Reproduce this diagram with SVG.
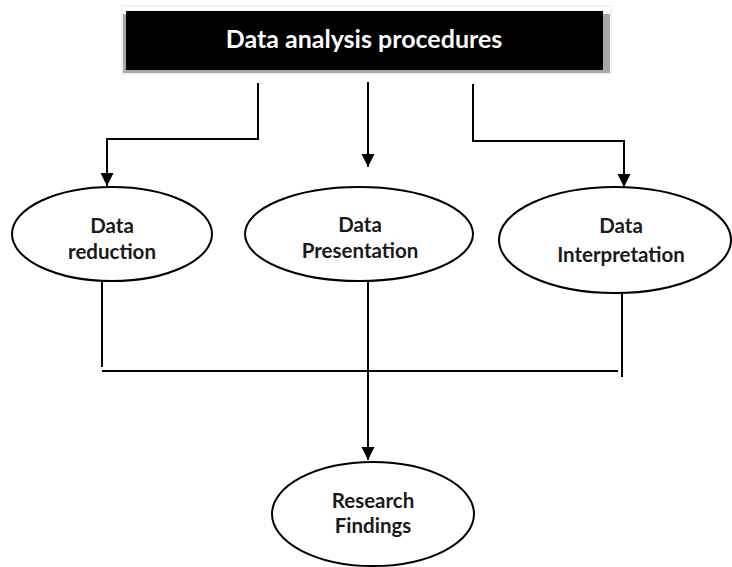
<svg xmlns="http://www.w3.org/2000/svg" width="732" height="567" viewBox="0 0 732 567">
  <style>
    .node ellipse { fill: #ffffff; stroke: #000000; stroke-width: 2; }
    .label { font-family: Lato, "Liberation Sans", sans-serif; font-weight: bold; font-size: 20.5px; fill: #1a1a1a; text-anchor: middle; }
    .title { font-family: Lato, "Liberation Sans", sans-serif; font-weight: bold; font-size: 25px; fill: #ffffff; text-anchor: middle; }
    .conn { fill: none; stroke: #000000; stroke-width: 2; }
  </style>
  <defs>
    <marker id="arrow" markerUnits="userSpaceOnUse" markerWidth="14" markerHeight="14" refX="13" refY="6.5" orient="auto">
      <path d="M0,0 L13,6.5 L0,13 Z" fill="#000000"/>
    </marker>
  </defs>
  <rect width="732" height="567" fill="#ffffff"/>

  <g id="title">
    <rect x="122" y="6" width="489" height="68" fill="#ffffff" stroke="#e4e4e4" stroke-width="1"/>
    <rect x="123" y="14" width="487" height="59" fill="#a8a8a8"/>
    <rect x="126" y="11" width="477" height="59" fill="#000000"/>
    <text class="title" x="364" y="48">Data analysis procedures</text>
  </g>

  <g id="connectors">
    <path class="conn" d="M258 83 V139 H107 V186" marker-end="url(#arrow)"/>
    <path class="conn" d="M368 82 V167" marker-end="url(#arrow)"/>
    <path class="conn" d="M473 84 V141 H624 V187" marker-end="url(#arrow)"/>
    <path class="conn" d="M102 281 V367"/>
    <path class="conn" d="M622 293 V377"/>
    <path class="conn" d="M102 371 H618"/>
    <path class="conn" d="M368 280 V460" marker-end="url(#arrow)"/>
  </g>

  <g id="data-reduction" class="node">
    <ellipse cx="112" cy="234" rx="100" ry="47"/>
    <text class="label" x="112" y="233">Data</text>
    <text class="label" x="112" y="259">reduction</text>
  </g>

  <g id="data-presentation" class="node">
    <ellipse cx="359" cy="234" rx="114" ry="47"/>
    <text class="label" x="360" y="232">Data</text>
    <text class="label" x="360" y="258">Presentation</text>
  </g>

  <g id="data-interpretation" class="node">
    <ellipse cx="615" cy="240" rx="116" ry="53"/>
    <text class="label" x="621" y="233">Data</text>
    <text class="label" x="621" y="262">Interpretation</text>
  </g>

  <g id="research-findings" class="node">
    <ellipse cx="373" cy="514" rx="101" ry="52"/>
    <text class="label" x="373" y="508">Research</text>
    <text class="label" x="373" y="533">Findings</text>
  </g>
</svg>
